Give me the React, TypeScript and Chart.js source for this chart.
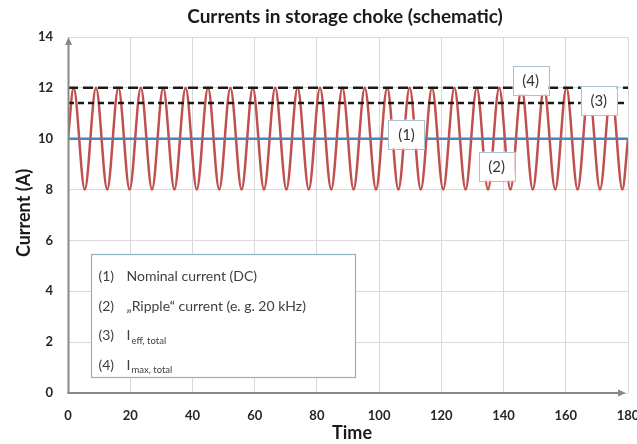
import React, { useEffect, useRef } from "react";
import { Chart, registerables } from "chart.js";

Chart.register(...registerables);

const titleText = "Currents in storage choke (schematic)";
const xAxisTitle = "Time";
const yAxisTitle = "Current (A)";

const timeMin = 0;
const timeMax = 180;
const timeStep = 20;
const currentMin = 0;
const currentMax = 14;
const currentStep = 2;

const rippleTimes = [
  0, 1.8, 5.4, 9.0, 12.6, 16.2, 19.8, 23.4, 27.0, 30.6, 34.2, 37.8, 41.4, 45.0, 48.6, 52.2,
  55.8, 59.4, 63.0, 66.6, 70.2, 73.8, 77.4, 81.0, 84.6, 88.2, 91.8, 95.4, 99.0, 102.6, 106.2,
  109.8, 113.4, 117.0, 120.6, 124.2, 127.8, 131.4, 135.0, 138.6, 142.2, 145.8, 149.4, 153.0,
  156.6, 160.2, 163.8, 167.4, 171.0, 174.6, 178.2, 180,
];
const rippleCurrents = [
  10, 12, 8, 12, 8, 12, 8, 12, 8, 12, 8, 12, 8, 12, 8, 12,
  8, 12, 8, 12, 8, 12, 8, 12, 8, 12, 8, 12, 8, 12, 8,
  12, 8, 12, 8, 12, 8, 12, 8, 12, 8, 12, 8, 12,
  8, 12, 8, 12, 8, 12, 8, 10,
];

const lineTimes = [0, 180];
const nominalCurrent = [10, 10];
const effCurrent = [11.4, 11.4];
const maxCurrent = [12, 12];

const annotationLabels = ["(1)", "(2)", "(3)", "(4)"];
const annotationTimes = [108.8, 137.8, 170.6, 148.7];
const annotationCurrents = [10.18, 8.92, 11.51, 12.3];

const legendNumbers = ["(1)", "(2)", "(3)", "(4)"];
const legendTexts = ["Nominal current (DC)", "\u201ERipple\u201C current (e. g. 20 kHz)", "I", "I"];
const legendSubscripts = ["", "", "eff, total", "max, total"];
// legend box corners in data units
const legendBoxTimes = [7.4, 92.1];
const legendBoxCurrents = [5.48, 0.61];

const FONT = "Lato, 'Open Sans', 'DejaVu Sans', sans-serif";

const toPts = (xs: number[], ys: number[]) => xs.map((x, i) => ({ x, y: ys[i] }));

const overlayPlugin = {
  id: "overlay",
  afterDraw(chart: any) {
    const ctx = chart.ctx as CanvasRenderingContext2D;
    const { left, right, top, bottom } = chart.chartArea;
    const xs = chart.scales.x;
    const ys = chart.scales.y;
    ctx.save();

    // axes with arrows
    ctx.strokeStyle = "#888888";
    ctx.fillStyle = "#888888";
    ctx.lineWidth = 2;
    const ax = left + 0.5;
    ctx.beginPath();
    ctx.moveTo(ax, bottom + 1);
    ctx.lineTo(ax, top + 6);
    ctx.stroke();
    ctx.beginPath();
    ctx.moveTo(ax, top);
    ctx.lineTo(ax - 3.5, top + 8);
    ctx.lineTo(ax + 3.5, top + 8);
    ctx.closePath();
    ctx.fill();
    ctx.beginPath();
    ctx.moveTo(left - 0.5, bottom);
    ctx.lineTo(right - 8, bottom);
    ctx.stroke();
    ctx.beginPath();
    ctx.moveTo(right - 2, bottom);
    ctx.lineTo(right - 10, bottom - 3.5);
    ctx.lineTo(right - 10, bottom + 3.5);
    ctx.closePath();
    ctx.fill();

    // annotation boxes
    ctx.font = `15px ${FONT}`;
    ctx.textAlign = "center";
    ctx.textBaseline = "middle";
    annotationLabels.forEach((lab, i) => {
      const cx = xs.getPixelForValue(annotationTimes[i]);
      const cy = ys.getPixelForValue(annotationCurrents[i]);
      const w = 36;
      const h = 29;
      ctx.fillStyle = "#ffffff";
      ctx.fillRect(cx - w / 2, cy - h / 2, w, h);
      ctx.strokeStyle = "#a9c2d2";
      ctx.lineWidth = 1;
      ctx.strokeRect(Math.round(cx - w / 2) + 0.5, Math.round(cy - h / 2) + 0.5, w, h);
      ctx.fillStyle = "#333333";
      ctx.fillText(lab, cx, cy + 1);
    });

    // legend box
    const bx1 = Math.round(xs.getPixelForValue(legendBoxTimes[0])) + 0.5;
    const bx2 = Math.round(xs.getPixelForValue(legendBoxTimes[1])) + 0.5;
    const by1 = Math.round(ys.getPixelForValue(legendBoxCurrents[0])) + 0.5;
    const by2 = Math.round(ys.getPixelForValue(legendBoxCurrents[1])) + 0.5;
    ctx.fillStyle = "#ffffff";
    ctx.fillRect(bx1, by1, bx2 - bx1, by2 - by1);
    ctx.strokeStyle = "#8fb2c6";
    ctx.lineWidth = 1.2;
    ctx.strokeRect(bx1, by1, bx2 - bx1, by2 - by1);
    ctx.textAlign = "left";
    ctx.textBaseline = "middle";
    legendNumbers.forEach((num, i) => {
      const ly = by1 + 22 + i * 29.5;
      ctx.fillStyle = "#404040";
      ctx.font = `14px ${FONT}`;
      ctx.fillText(num, bx1 + 7, ly);
      ctx.fillText(legendTexts[i], bx1 + 35, ly);
      if (legendSubscripts[i]) {
        const w = ctx.measureText(legendTexts[i]).width;
        ctx.font = `9.5px ${FONT}`;
        ctx.fillText(legendSubscripts[i], bx1 + 35 + w + 1, ly + 5);
      }
    });

    // titles
    ctx.fillStyle = "#1a1a1a";
    ctx.textAlign = "center";
    ctx.textBaseline = "middle";
    ctx.font = `bold 19px ${FONT}`;
    ctx.fillText(titleText, 345, 17);
    ctx.font = `bold 18px ${FONT}`;
    ctx.fillText(xAxisTitle, (left + right) / 2 + 4, 433);
    ctx.save();
    ctx.translate(24, 213);
    ctx.rotate(-Math.PI / 2);
    ctx.fillText(yAxisTitle, 0, 0);
    ctx.restore();

    ctx.restore();
  },
};

export default function App() {
  const ref = useRef<HTMLCanvasElement | null>(null);

  useEffect(() => {
    if (!ref.current) return;
    const chart = new Chart(ref.current, {
      type: "line",
      data: {
        datasets: [
          {
            label: "Imax",
            data: toPts(lineTimes, maxCurrent),
            borderColor: "#1a1a1a",
            borderWidth: 2.5,
            borderDash: [10, 5],
            pointRadius: 0,
            order: 1,
          },
          {
            label: "Ieff",
            data: toPts(lineTimes, effCurrent),
            borderColor: "#1a1a1a",
            borderWidth: 2.5,
            borderDash: [6, 4],
            pointRadius: 0,
            order: 2,
          },
          {
            label: "DC",
            data: toPts(lineTimes, nominalCurrent),
            borderColor: "#4f81bd",
            borderWidth: 2.5,
            pointRadius: 0,
            order: 3,
          },
          {
            label: "Ripple",
            data: toPts(rippleTimes, rippleCurrents),
            borderColor: "#c0504d",
            borderWidth: 2.5,
            pointRadius: 0,
            cubicInterpolationMode: "monotone",
            order: 4,
          },
        ],
      },
      options: {
        responsive: false,
        animation: false,
        layout: { padding: { top: 37, left: 0, right: 12, bottom: 0 } },
        plugins: {
          legend: { display: false },
          title: { display: false },
          tooltip: { enabled: false },
        },
        scales: {
          x: {
            type: "linear",
            min: timeMin,
            max: timeMax,
            border: { display: false },
            grid: { color: "#d9d9d9", lineWidth: 1, drawTicks: false },
            ticks: {
              stepSize: timeStep,
              padding: 15,
              maxRotation: 0,
              color: "#262626",
              font: { family: FONT, size: 13, weight: "bold" },
            },
            afterFit: (s: any) => {
              s.height = 51;
              s.paddingLeft = 0;
              s.paddingRight = 0;
            },
          },
          y: {
            type: "linear",
            min: currentMin,
            max: currentMax,
            border: { display: false },
            grid: { color: "#d9d9d9", lineWidth: 1, drawTicks: false },
            ticks: {
              stepSize: currentStep,
              padding: 15,
              color: "#262626",
              font: { family: FONT, size: 13, weight: "bold" },
            },
            afterFit: (s: any) => {
              s.width = 68;
              s.paddingTop = 0;
              s.paddingBottom = 0;
            },
          },
        },
      },
      plugins: [overlayPlugin],
    } as any);
    return () => chart.destroy();
  }, []);

  return (
    <div
      style={{
        position: "fixed",
        left: 0,
        top: 0,
        width: 637,
        height: 444,
        overflow: "hidden",
        background: "#ffffff",
      }}
    >
      <canvas ref={ref} width={640} height={444} style={{ display: "block" }} />
    </div>
  );
}
